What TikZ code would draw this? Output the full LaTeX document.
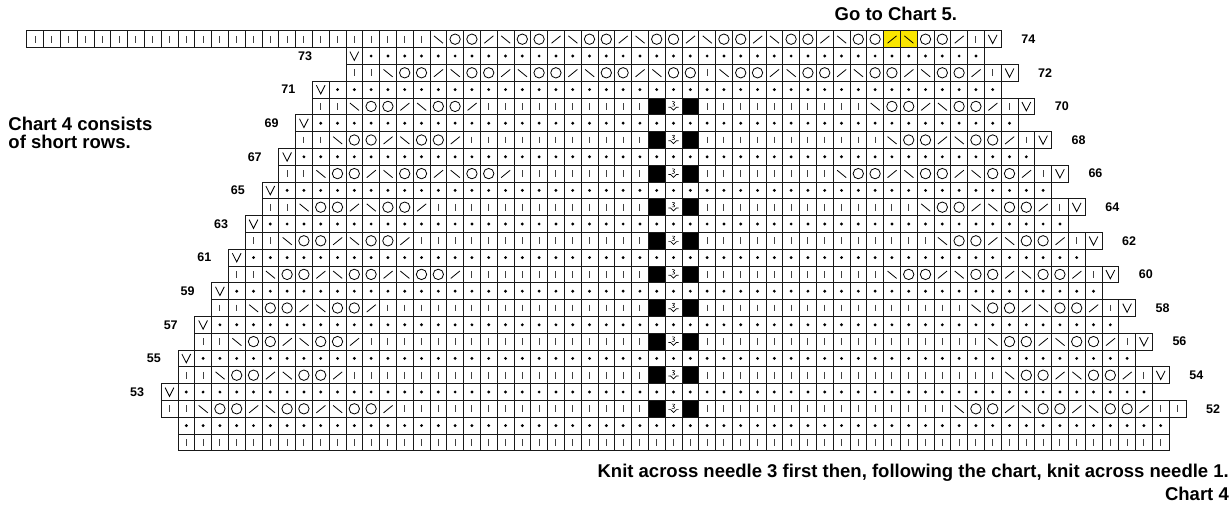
\documentclass[tikz,border=0pt]{standalone}
\usepackage{fontspec}
\setmainfont{Liberation Sans}
\definecolor{chartyellow}{RGB}{250,230,0}
\tikzset{
  gridline/.style={draw=black!90, line width=0.8pt},
  symline/.style={draw=black, line width=0.8pt},
  pipeline/.style={draw=black!75, line width=0.85pt},
  rowlabel/.style={font=\fontsize{12.5}{14}\selectfont\bfseries, inner sep=0pt},
  bigtext/.style={font=\fontsize{18.5}{20}\selectfont\bfseries, inner sep=0pt},
}
% cell (col,row) : top-left corner at (col,row), y grows downward
\newcommand\kcbox[2]{\draw[gridline] (#1,#2) rectangle ++(1,1);}
\newcommand\kcK[2]{\kcbox{#1}{#2}\draw[pipeline] ({#1+.5},{#2+.3}) -- ({#1+.5},{#2+.7});}
\newcommand\kcP[2]{\kcbox{#1}{#2}\fill ({#1+.5},{#2+.5}) circle[radius=1.6pt];}
\newcommand\kcO[2]{\kcbox{#1}{#2}\draw[symline] ({#1+.5},{#2+.5}) circle[radius=5.2pt];}
\newcommand\kcL[2]{\kcbox{#1}{#2}\draw[symline] ({#1+.24},{#2+.3}) -- ({#1+.78},{#2+.74});}
\newcommand\kcR[2]{\kcbox{#1}{#2}\draw[symline] ({#1+.24},{#2+.74}) -- ({#1+.78},{#2+.3});}
\newcommand\kcV[2]{\kcbox{#1}{#2}\draw[symline] ({#1+.24},{#2+.24}) -- ({#1+.5},{#2+.76}) -- ({#1+.76},{#2+.24});}
\newcommand\kcB[2]{\fill[black] (#1,#2) rectangle ++(1,1);\kcbox{#1}{#2}}
\newcommand\kcS[2]{\kcbox{#1}{#2}%
  \draw[black, line width=.5pt] ({#1+.42},{#2+.22}) .. controls ({#1+.6},{#2+.17}) and ({#1+.62},{#2+.33}) .. ({#1+.47},{#2+.35})
     .. controls ({#1+.63},{#2+.37}) and ({#1+.6},{#2+.52}) .. ({#1+.41},{#2+.48});
  \draw[black, line width=.7pt] ({#1+.2},{#2+.55}) -- ({#1+.33},{#2+.55}) -- ({#1+.5},{#2+.72}) -- ({#1+.67},{#2+.55}) -- ({#1+.8},{#2+.55});}
\newcommand\kcY[2]{\fill[chartyellow] (#1,#2) rectangle ++(1,1);\kcR{#1}{#2}}
\newcommand\kcZ[2]{\fill[chartyellow] (#1,#2) rectangle ++(1,1);\kcL{#1}{#2}}
% run of one symbol: row, from col, to col, symbol
\newcommand\crun[4]{\pgfmathtruncatemacro\runA{#2}\pgfmathtruncatemacro\runB{#3}%
  \foreach \cc in {\runA,...,\runB}{\csname kc#4\endcsname{\cc}{#1}}}
% lace repeats: row, start col, number of repeats
\newcommand\lace[3]{\foreach \k in {1,...,#3}{%
    \pgfmathtruncatemacro\la{#2+4*(\k-1)}%
    \kcL{\la}{#1}\kcO{\la+1}{#1}\kcO{\la+2}{#1}\kcR{\la+3}{#1}}}
% even (pattern) row: row, L, R (exclusive), repeats, last symbol
\newcommand\erow[5]{%
  \pgfmathtruncatemacro\eA{#2+1}\kcK{#2}{#1}\kcK{\eA}{#1}%
  \pgfmathtruncatemacro\eB{#2+2}\lace{#1}{\eB}{#4}%
  \pgfmathtruncatemacro\eC{#2+2+4*#4}\crun{#1}{\eC}{36}{K}%
  \kcB{37}{#1}\kcS{38}{#1}\kcB{39}{#1}%
  \pgfmathtruncatemacro\eD{#3-3-4*#4}\crun{#1}{40}{\eD}{K}%
  \pgfmathtruncatemacro\eE{#3-2-4*#4}\lace{#1}{\eE}{#4}%
  \pgfmathtruncatemacro\eF{#3-2}\kcK{\eF}{#1}%
  \pgfmathtruncatemacro\eG{#3-1}\csname kc#5\endcsname{\eG}{#1}}
% odd (purl) row: row, L, last col
\newcommand\orow[3]{\kcV{#2}{#1}\pgfmathtruncatemacro\oA{#2+1}\crun{#1}{\oA}{#3}{P}}

\begin{document}
\begin{tikzpicture}[x=1pt,y=-1pt]
\useasboundingbox (0,0) rectangle (1231,508);
\fill[white] (0,0) rectangle (1231,508);
\begin{scope}[shift={(26.7pt,-30.8pt)},x=16.8pt,y=-16.8pt]
  % row 74
  \crun{0}{0}{23}{K}
  \lace{0}{24}{6}
  \kcL{48}{0}\kcO{49}{0}\kcO{50}{0}\kcY{51}{0}\kcZ{52}{0}\kcO{53}{0}\kcO{54}{0}\kcR{55}{0}\kcK{56}{0}\kcV{57}{0}
  % row 73
  \orow{1}{19}{56}
  % row 72
  \kcK{19}{2}\kcK{20}{2}
  \lace{2}{21}{4}
  \kcL{37}{2}\kcO{38}{2}\kcO{39}{2}\kcK{40}{2}
  \lace{2}{41}{4}
  \kcK{57}{2}\kcV{58}{2}
  % rows 71 .. 53
  \orow{3}{17}{57}
  \erow{4}{17}{60}{2}{V}
  \orow{5}{16}{58}
  \erow{6}{16}{61}{2}{V}
  \orow{7}{15}{59}
  \erow{8}{15}{62}{3}{V}
  \orow{9}{14}{60}
  \erow{10}{14}{63}{2}{V}
  \orow{11}{13}{61}
  \erow{12}{13}{64}{2}{V}
  \orow{13}{12}{62}
  \erow{14}{12}{65}{3}{V}
  \orow{15}{11}{63}
  \erow{16}{11}{66}{2}{V}
  \orow{17}{10}{64}
  \erow{18}{10}{67}{2}{V}
  \orow{19}{9}{65}
  \erow{20}{9}{68}{2}{V}
  \orow{21}{8}{66}
  \erow{22}{8}{69}{3}{K}
  % rows 51, 50
  \crun{23}{9}{67}{P}
  \crun{24}{9}{67}{K}
\end{scope}
% row numbers
\foreach \n/\L in {73/18,71/17,69/16,67/15,65/14,63/13,61/12,59/11,57/10,55/9,53/8}{
  \node[rowlabel, anchor=east] (lab\n) at ({26.7+16.8*(\L-1)},{30.8+16.8*(74-\n+0.5)}) {\n};}
\foreach \n/\R in {74/58,72/59,70/60,68/61,66/62,64/63,62/64,60/65,58/66,56/67,54/68,52/69}{
  \node[rowlabel, anchor=west] (lab\n) at ({26.7+16.8*\R+20},{30.8+16.8*(74-\n+0.5)}) {\n};}
% texts
\node[bigtext, anchor=base west] (note1) at (8.3,130.7) {Chart 4 consists};
\node[bigtext, anchor=base west] (note2) at (8.3,148) {of short rows.};
\node[bigtext, anchor=base west] (goto) at (834.5,20.5) {Go to Chart 5.};
\node[bigtext, anchor=base east] (knit) at (1229,477) {Knit across needle 3 first then, following the chart, knit across needle 1.};
\node[bigtext, anchor=base east] (title) at (1229,500) {Chart 4};
\end{tikzpicture}
\end{document}
